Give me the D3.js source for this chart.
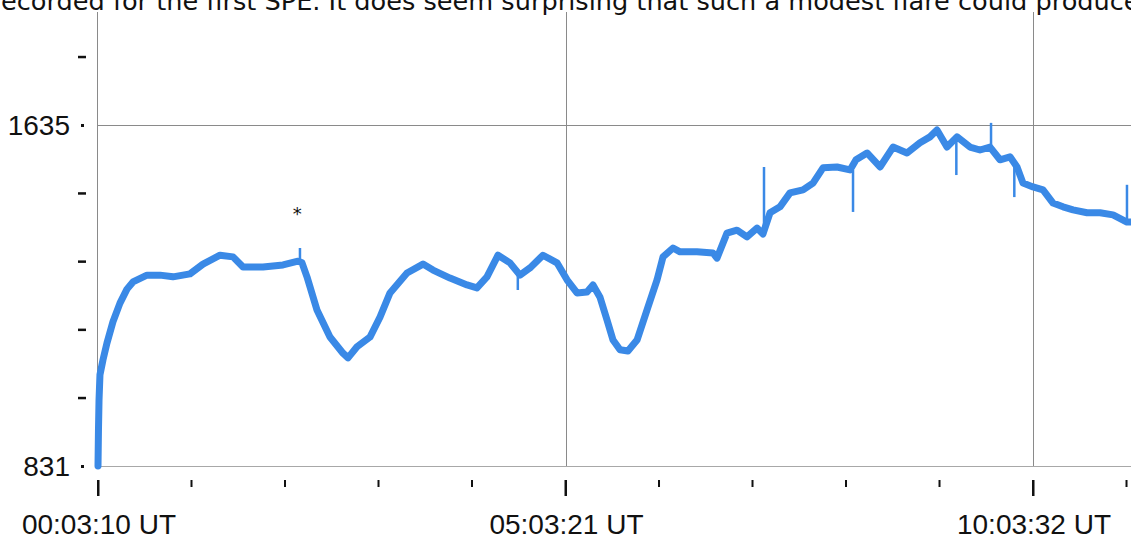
<!DOCTYPE html>
<html>
<head>
<meta charset="utf-8">
<script src="https://cdn.jsdelivr.net/npm/d3@7"></script>
<style>
  html, body { margin: 0; padding: 0; background: #fff; overflow: hidden; }
  svg { display: block; }
</style>
</head>
<body>
<svg id="chart" width="1131" height="540"></svg>
<script>
// Neutron monitor count rate, hours elapsed since 00:03:10 UT
const hours = [0, 0.005, 0.011, 0.021, 0.053, 0.096, 0.16, 0.235, 0.31, 0.374, 0.524, 0.663, 0.802, 0.984,
  1.123, 1.305, 1.444, 1.551, 1.765, 1.979, 2.139, 2.182, 2.235, 2.342, 2.481, 2.620, 2.674, 2.770, 2.909,
  3.016, 3.123, 3.305, 3.476, 3.583, 3.765, 3.947, 4.053, 4.160, 4.278, 4.406, 4.513, 4.620, 4.759, 4.909,
  5.016, 5.123, 5.230, 5.294, 5.369, 5.444, 5.508, 5.583, 5.668, 5.765, 5.872, 5.979, 6.043, 6.150, 6.225,
  6.406, 6.578, 6.620, 6.727, 6.834, 6.941, 7.048, 7.112, 7.187, 7.294, 7.401, 7.540, 7.647, 7.754, 7.904,
  8.043, 8.107, 8.225, 8.364, 8.503, 8.652, 8.791, 8.898, 8.973, 9.080, 9.187, 9.326, 9.433, 9.540, 9.647,
  9.754, 9.829, 9.893, 10.0, 10.107, 10.214, 10.321, 10.428, 10.578, 10.717, 10.856, 11.005, 11.048];
const counts = [831, 916, 987, 1046, 1081, 1121, 1171, 1215, 1248, 1265, 1281, 1281, 1277, 1284,
  1307, 1328, 1324, 1300, 1300, 1305, 1314, 1310, 1277, 1199, 1135, 1097, 1086, 1112, 1135,
  1182, 1239, 1286, 1307, 1293, 1274, 1258, 1251, 1277, 1328, 1310, 1281, 1298, 1328, 1310,
  1270, 1239, 1241, 1258, 1229, 1175, 1128, 1105, 1102, 1128, 1199, 1270, 1324, 1345, 1336,
  1336, 1333, 1321, 1380, 1387, 1371, 1392, 1378, 1428, 1442, 1475, 1482, 1498, 1534, 1536,
  1529, 1553, 1569, 1536, 1583, 1569, 1593, 1607, 1623, 1583, 1607, 1583, 1576, 1583, 1553,
  1560, 1536, 1498, 1489, 1482, 1451, 1442, 1435, 1428, 1428, 1423, 1406, 1406];

// Short single-sample excursions
const spikeHours = [2.16, 4.49, 7.123, 8.075, 9.18, 9.551, 9.80, 11.005];
const spikeFrom  = [1312, 1280, 1378, 1529, 1600, 1583, 1545, 1406];
const spikeTo    = [1345, 1246, 1536, 1430, 1517, 1640, 1465, 1494];

const yTicks = [831, 991.8, 1152.6, 1313.4, 1474.2, 1635, 1795.8];
const yLabelled = [831, 1635];
const xTickHours = [0, 1, 2, 3, 4, 5, 6, 7, 8, 9, 10, 11];
const xMajorHours = [0, 5, 10];
const xLabels = ["00:03:10 UT", "05:03:21 UT", "10:03:32 UT"];
const headline = "recorded for the first SPE. It does seem surprising that such a modest flare could produce";

(function draw() {
  const svg = d3.select("#chart");
  const plotLeft = 98, plotRight = 1131, plotTop = 12, plotBottom = 466;

  const x = d3.scaleLinear().domain([0, 11.048]).range([plotLeft, plotRight]);
  const y = d3.scaleLinear().domain([831, 1901.4]).range([plotBottom, plotTop]);

  // Running text of the page above the figure
  const head = svg.append("text")
    .attr("x", -9).attr("y", 10)
    .attr("font-family", "DejaVu Sans, sans-serif")
    .attr("font-size", 22)
    .attr("fill", "#111")
    .text(headline);
  const w = head.node().getComputedTextLength();
  head.attr("font-size", 22 * 1149 / w);

  const grid = svg.append("g").attr("stroke", "#8a8a8a").attr("stroke-width", 1).attr("fill", "none");
  // frame lines
  grid.append("line").attr("x1", plotLeft - 0.5).attr("x2", plotLeft - 0.5).attr("y1", plotTop).attr("y2", plotBottom);
  grid.append("line").attr("x1", plotLeft - 1).attr("x2", plotRight)
    .attr("y1", y(831) + 0.5).attr("y2", y(831) + 0.5).attr("stroke", "#a8a8a8");
  grid.append("line").attr("x1", plotLeft - 1).attr("x2", plotRight)
    .attr("y1", Math.round(y(1635)) + 0.5).attr("y2", Math.round(y(1635)) + 0.5);
  xMajorHours.slice(1).forEach(h => {
    grid.append("line").attr("x1", Math.round(x(h)) + 0.5).attr("x2", Math.round(x(h)) + 0.5)
      .attr("y1", plotTop).attr("y2", plotBottom);
  });

  // Y axis: dashes, with dots beside labelled values
  const yAxis = svg.append("g");
  yTicks.forEach(v => {
    const lab = yLabelled.includes(v);
    yAxis.append("rect")
      .attr("x", lab ? 81 : 78).attr("width", lab ? 3 : 8)
      .attr("y", y(v) - 1).attr("height", lab ? 3 : 2.5)
      .attr("fill", "#111");
  });
  yLabelled.forEach(v => {
    yAxis.append("text")
      .attr("x", 70).attr("y", y(v))
      .attr("dy", "0.36em")
      .attr("text-anchor", "end")
      .attr("font-family", "Liberation Sans, Arial, sans-serif")
      .attr("font-size", 28)
      .attr("fill", "#111")
      .text(d3.format("d")(v));
  });

  // X axis: hourly ticks, longer at the labelled ones
  const xAxis = svg.append("g");
  xTickHours.forEach(h => {
    const major = xMajorHours.includes(h);
    xAxis.append("rect")
      .attr("x", x(h) - 1).attr("width", major ? 2.5 : 2)
      .attr("y", 480).attr("height", major ? 16 : 7)
      .attr("fill", "#111");
  });
  xMajorHours.forEach((h, i) => {
    xAxis.append("text")
      .attr("x", x(h) + 1).attr("y", 534)
      .attr("text-anchor", "middle")
      .attr("font-family", "Liberation Sans, Arial, sans-serif")
      .attr("font-size", 28)
      .attr("fill", "#111")
      .text(xLabels[i]);
  });

  // Count-rate trace
  const rows = hours.map((h, i) => ({ h, v: counts[i] }));
  const line = d3.line().x(d => x(d.h)).y(d => y(d.v)).curve(d3.curveLinear);
  svg.append("path")
    .datum(rows)
    .attr("d", line)
    .attr("fill", "none")
    .attr("stroke", "#3a89e6")
    .attr("stroke-width", 7)
    .attr("stroke-linejoin", "round")
    .attr("stroke-linecap", "round");

  svg.append("g")
    .selectAll("line")
    .data(spikeHours.map((h, i) => ({ h, a: spikeFrom[i], b: spikeTo[i] })))
    .join("line")
    .attr("x1", d => x(d.h)).attr("x2", d => x(d.h))
    .attr("y1", d => y(d.a)).attr("y2", d => y(d.b))
    .attr("stroke", "#3a89e6")
    .attr("stroke-width", 2.5);

  // Flare onset marker
  svg.append("text")
    .attr("x", x(2.13)).attr("y", 220)
    .attr("text-anchor", "middle")
    .attr("font-family", "DejaVu Sans, sans-serif")
    .attr("font-size", 18)
    .attr("fill", "#111")
    .text("*");
})();
</script>
</body>
</html>
